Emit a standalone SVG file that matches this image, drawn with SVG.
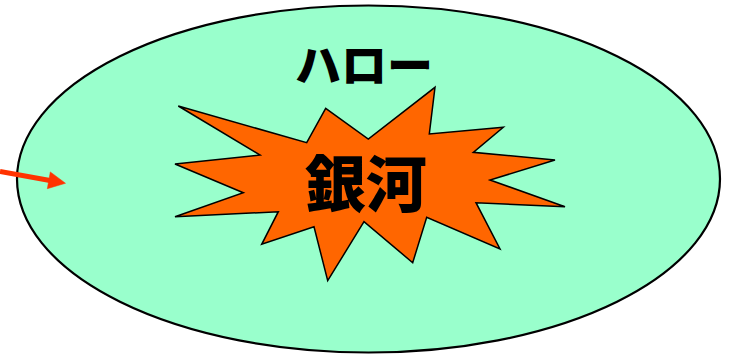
<svg xmlns="http://www.w3.org/2000/svg" width="730" height="357" viewBox="0 0 730 357">
<style>
.t{font-family:"Noto Sans CJK JP","Noto Sans CJK SC",sans-serif;font-weight:900;fill:#000;text-anchor:middle}
.arrow{stroke:#FF3300;fill:#FF3300}
</style>
<rect width="730" height="357" fill="#fff"/>
<g id="halo">
<ellipse cx="368.5" cy="179" rx="351.5" ry="173.5" fill="#99FFCC" stroke="#000" stroke-width="2.2"/>
<text class="t" x="364" y="82" font-size="46">ハロー</text>
</g>
<g id="galaxy">
<polygon points="178.3,106 306.7,142.7 325.7,108.3 368.3,139 435,87.3 429.3,134 503.3,127.3 473.3,152.3 555,160 490,180 565,206.7 476,202.7 500,249 426.7,217.3 412.7,262.7 364,221.7 327.7,280.7 314,226.7 261.7,244.3 278.3,211.7 175,216.7 243.3,192.7 175,164 260,155" fill="#FF6600" stroke="#000" stroke-width="1.5" stroke-linejoin="miter"/>
<text class="t" x="366" y="207" font-size="61">銀河</text>
</g>
<g id="connectors">
<line class="arrow" x1="0" y1="171.5" x2="50" y2="180.5" stroke-width="5"/>
<polygon class="arrow" points="65.5,183.3 50.3,171.9 47.3,188.7" stroke-width="0.5"/>
</g>
</svg>
